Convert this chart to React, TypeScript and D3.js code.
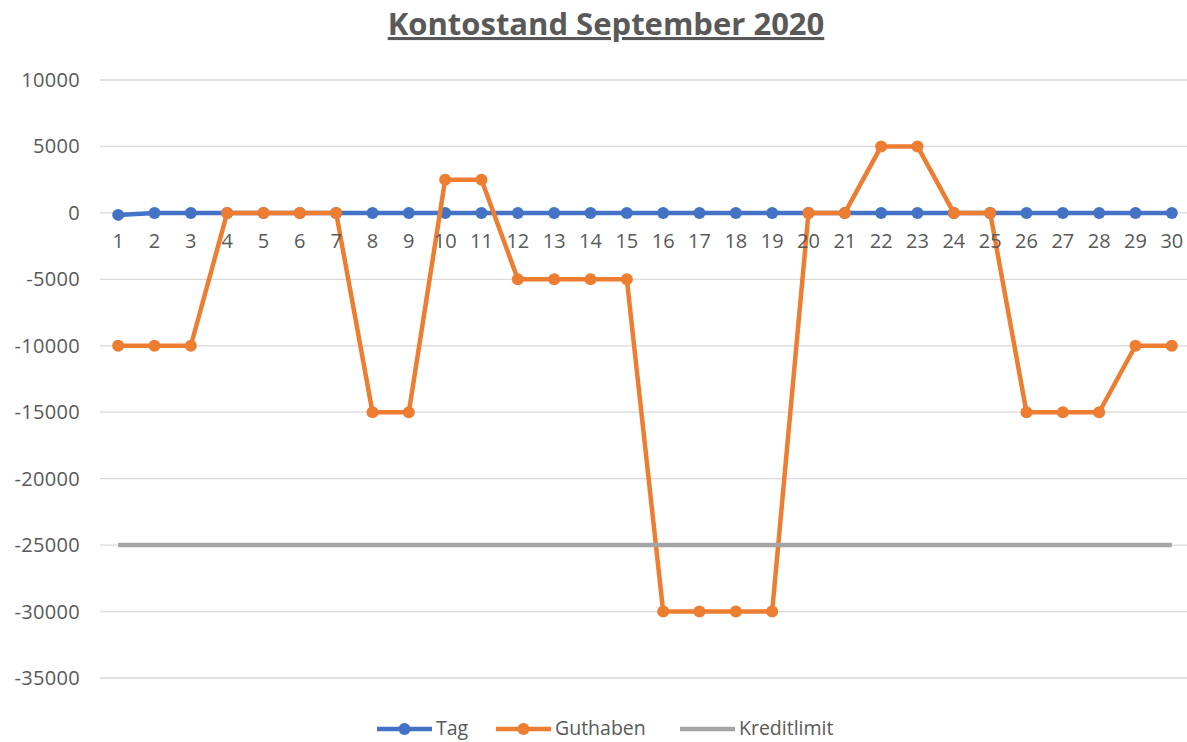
import React from 'react';
import * as d3 from 'd3';

const days = d3.range(1, 31).map(String);
const tag = [-150, 0, 0, 0, 0, 0, 0, 0, 0, 0, 0, 0, 0, 0, 0, 0, 0, 0, 0, 0, 0, 0, 0, 0, 0, 0, 0, 0, 0, 0];
const guthaben = [
  -10000, -10000, -10000, 0, 0, 0, 0, -15000, -15000, 2500,
  2500, -5000, -5000, -5000, -5000, -30000, -30000, -30000, -30000, 0,
  0, 5000, 5000, 0, 0, -15000, -15000, -15000, -10000, -10000,
];
const kreditlimit = days.map(() => -25000);
const yTicks = [10000, 5000, 0, -5000, -10000, -15000, -20000, -25000, -30000, -35000];

const W = 1187;
const H = 742;
const font = '"Open Sans", "Noto Sans", sans-serif';
const textColor = '#595959';

const App = () => {
  const x = d3.scaleBand().domain(days).range([100, 1190]);
  const y = d3.scaleLinear().domain([-35000, 10000]).range([678, 80]);
  const cx = (d: string) => (x(d) as number) + x.bandwidth() / 2;
  const line = d3.line<number>().x((_, i) => cx(days[i])).y(v => y(v));

  const series = [
    { name: 'Tag', values: tag, color: '#4472C4', markers: true },
    { name: 'Guthaben', values: guthaben, color: '#ED7D31', markers: true },
    { name: 'Kreditlimit', values: kreditlimit, color: '#A5A5A5', markers: false },
  ];
  const legendX = [377, 496, 680];

  return (
    <svg width={W} height={H} style={{ position: 'absolute', left: 0, top: 0, background: '#fff' }}>
      <text
        x={606}
        y={35}
        textAnchor="middle"
        fontFamily={font}
        fontWeight="bold"
        fontSize={31}
        fill={textColor}
        textDecoration="underline"
      >
        Kontostand September 2020
      </text>
      {yTicks.map(t => (
        <g key={t}>
          <line x1={100} x2={1190} y1={y(t)} y2={y(t)} stroke="#d9d9d9" strokeWidth={1.3} />
          <text x={80} y={y(t)} dy="0.35em" textAnchor="end" fontFamily={font} fontSize={20} fill={textColor} style={{ letterSpacing: '0.3px' }}>
            {t}
          </text>
        </g>
      ))}
      {series.map(s => (
        <g key={s.name}>
          <path d={line(s.values) || ''} fill="none" stroke={s.color} strokeWidth={4.5} strokeLinejoin="round" />
          {s.markers &&
            s.values.map((v, i) => <circle key={i} cx={cx(days[i])} cy={y(v)} r={6} fill={s.color} />)}
        </g>
      ))}
      {days.map(d => (
        <text key={d} x={cx(d)} y={248} textAnchor="middle" fontFamily={font} fontSize={20} fill={textColor}>
          {d}
        </text>
      ))}
      {series.map((s, i) => (
        <g key={s.name} transform={`translate(${legendX[i]},729)`}>
          <line x1={0} x2={55} y1={0} y2={0} stroke={s.color} strokeWidth={4.5} />
          {s.markers && <circle cx={27.5} cy={0} r={6} fill={s.color} />}
          <text x={59} y={0} dy="0.33em" fontFamily={font} fontSize={19.5} fill={textColor}>
            {s.name}
          </text>
        </g>
      ))}
    </svg>
  );
};

export default App;
